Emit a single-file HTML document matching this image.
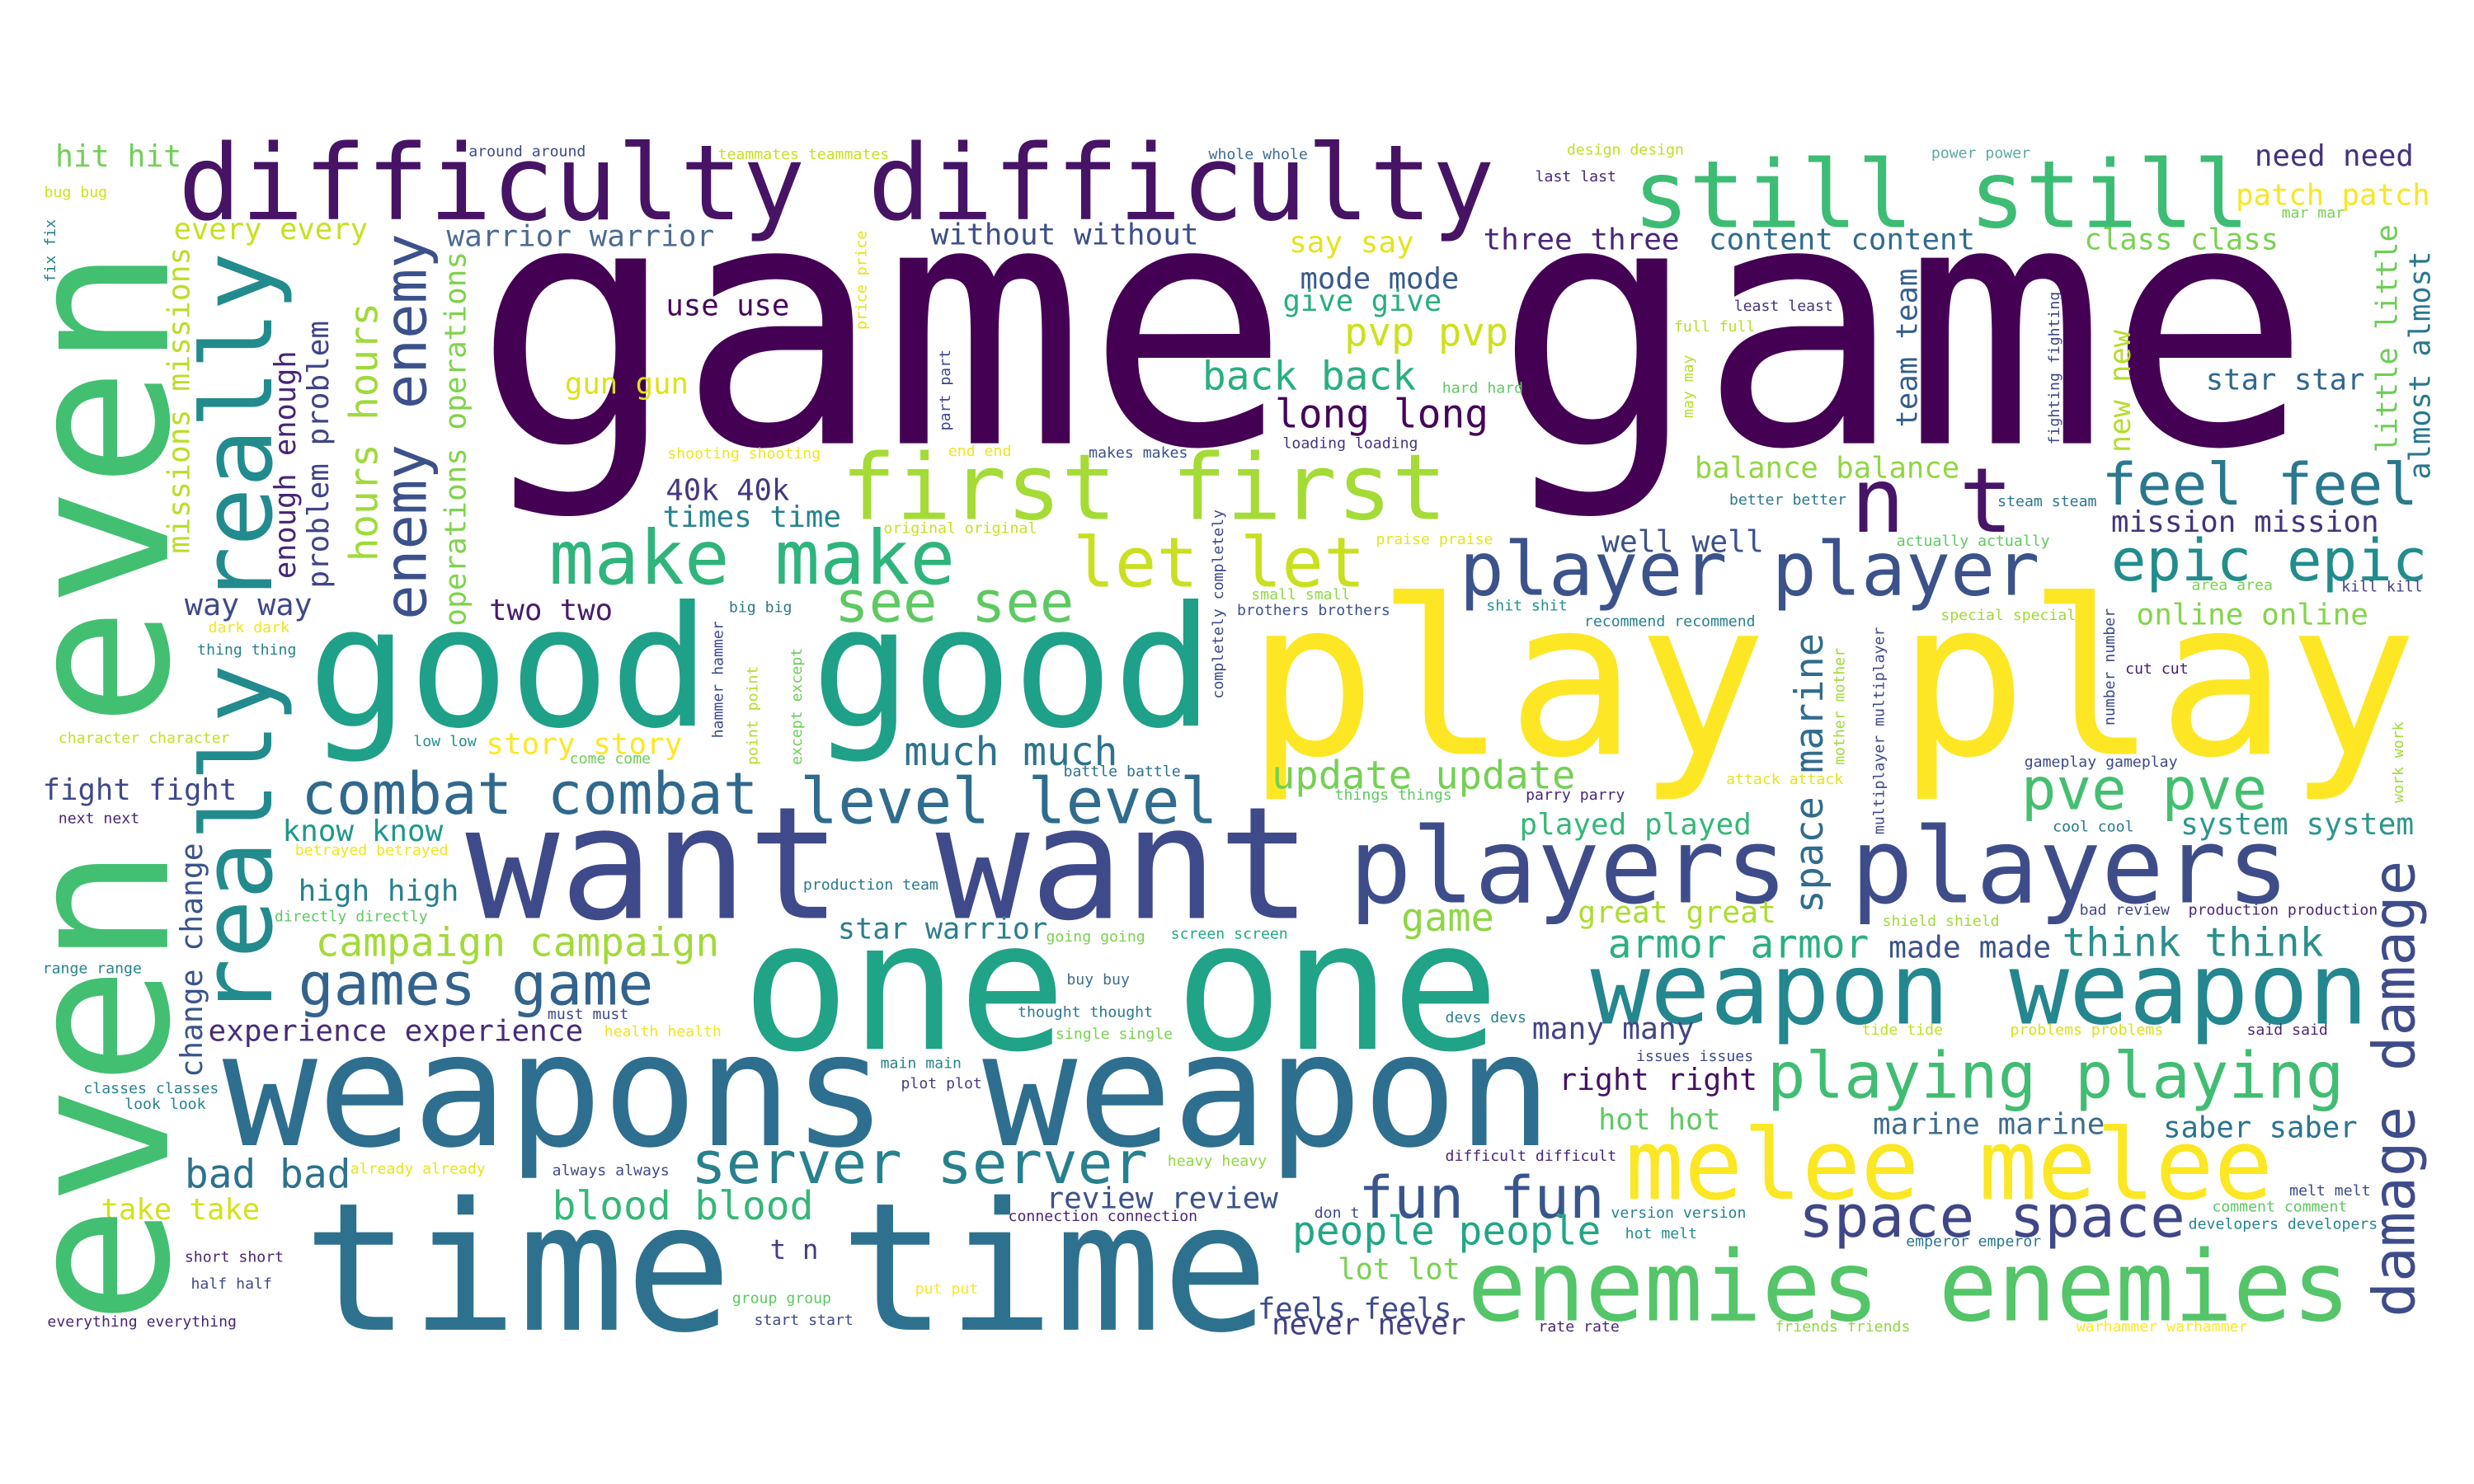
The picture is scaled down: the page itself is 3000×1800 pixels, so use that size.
<!DOCTYPE html>
<html>
<head>
<meta charset="utf-8">
<style>
html,body{margin:0;padding:0;background:#ffffff;}
#wc{display:block;}
#wc text{font-family:"DejaVu Sans Mono","Liberation Mono",monospace;}
</style>
</head>
<body>
<svg id="wc" width="3000" height="1800" viewBox="0 0 1568 940.8" xmlns="http://www.w3.org/2000/svg">
<rect x="0" y="0" width="1568" height="940.8" fill="#ffffff"/>
<g id="words"></g>
</svg>
<script>
// Horizontal words: text, font size (word weight), colour, anchor (left x, baseline y)
const hWords = ["game game","difficulty difficulty","still still","play play","first first","make make","let let","n t","feel feel","player player","epic epic","good good","see see","want want","players players","one one","weapon weapon","weapons weapon","time time","melee melee","enemies enemies","combat combat","level level","pve pve","games game","server server","fun fun","space space","playing playing","much much","update update","campaign campaign","game","great great","armor armor","made made","think think","online online","system system","played played","right right","hot hot","marine marine","saber saber","people people","lot lot","feels feels","never never","review review","blood blood","bad bad","take take","experience experience","high high","know know","fight fight","story story","way way","two two","times time","40k 40k","well well","balance balance","mission mission","star star","long long","back back","pvp pvp","give give","mode mode","say say","three three","content content","class class","patch patch","need need","without without","warrior warrior","use use","gun gun","every every","hit hit","star warrior","many many","t n"];
const hSizes = [215,66,59,137,58,47.5,44,57,37,47,37,106,36,99,66,114,63,100,113,62,62,37,40,37,37.4,37,37,37,40.5,25,24.6,25,24.5,19,25,19,25,18.8,18.9,18.8,19,18.4,18.8,18.6,25,18.4,18.6,18.6,18.8,25,25,18.6,18.8,18.8,18.8,18.6,18.8,19.2,18.6,18.8,18.6,19,18.6,18.8,18.6,25,25,24.7,18.6,18.6,18.8,18.8,18.7,18.6,18.6,18.6,18.8,18.8,18.6,18.6,18.6,19,18.4,19,17];
const hColors = ["#440154","#471365","#3dbc74","#fde725","#a5db36","#2fb47c","#c8e020","#481467","#2a788e","#3b528b","#228c8d","#1fa088","#5ec962","#3e4a89","#3e4d8a","#20a386","#24868e","#2e6e8e","#2d718e","#fbe723","#54c568","#30698e","#2f6c8e","#44bf70","#33638d","#27808e","#39568c","#3f4788","#40bd72","#2c738e","#75d054","#a2da37","#8ed645","#addc30","#2ab07f","#3b528b","#2a8f8c","#84d44b","#2f958c","#35b779","#471063","#5ec962","#3e6d8e","#2b748e","#22a785","#7ad151","#3e4c8a","#433e85","#3b528b","#35b779","#2c728e","#d2e21b","#472c7a","#26818e","#1f988b","#3f4889","#fde725","#3e4989","#481b6d","#25838e","#453781","#3b528b","#90d743","#45337d","#31688e","#45065a","#29af7f","#cde11d","#27ad81","#38598c","#e5e419","#482677","#2f6b8e","#7ad151","#f8e621","#45327d","#3d4e8a","#4c6b91","#46075a","#dde318","#c8e020","#71cf57","#2c7e8e","#414487","#433d84"];
const hX = [300,113,1035,790,533,348,680,1173,1332,925,1338,195,529,295,855,470,1008,141,192,1030,930,191,507,1281,189,438,861,1140,1120,573,806,200,888,1000,1019,1197,1307,1354,1382,963,988,1013,1187,1371,819,848,797,806,663,350,117,64,132,189,179,27,308,117,310,420,422,1015,1074,1338,1398,808,762,852,813,824,817,940,1083,1321,1417,1429,590,283,422,358,110,35,531,971,488];
const hY = [281,139,144,478,329,370,372,337,320,377,368,460,394,582,572,665,649,726,843,760,837,516,522,513,637,750,772,784,696,485,500,606,590,585,607,607,606,396,529,529,691,716,719,721,789,811,836,846,766,773,753,773,660,571,533,507,478,390,393,334,317,350,303,337,247,271,247,219,197,183,160,158,158,158,130,105,155,156,200,249.5,151.5,105.5,595,658.6,798];

// Small horizontal words (all same small weight)
const sWords = ["around around","teammates teammates","whole whole","design design","power power","last last","mar mar","bug bug","least least","full full","hard hard","loading loading","shooting shooting","end end","makes makes","original original","better better","steam steam","actually actually","praise praise","small small","brothers brothers","shit shit","recommend recommend","special special","area area","kill kill","big big","dark dark","thing thing","character character","low low","come come","cut cut","gameplay gameplay","attack attack","parry parry","things things","battle battle","next next","betrayed betrayed","cool cool","production team","directly directly","range range","shield shield","bad review","production production","going going","screen screen","buy buy","must must","health health","thought thought","single single","devs devs","tide tide","problems problems","said said","issues issues","main main","plot plot","classes classes","look look","already already","always always","difficult difficult","heavy heavy","melt melt","comment comment","version version","connection connection","don t","hot melt","developers developers","emperor emperor","short short","half half","put put","group group","start start","everything everything","rate rate","friends friends","warhammer warhammer"];
const sSize = 9.5;
const sColors = ["#3e4989","#c8e020","#3e6d8e","#c2df23","#5ba8a0","#482677","#7ad151","#d2e21b","#45337d","#b5de2b","#5ec962","#45337d","#f1e51d","#f1e51d","#3b528b","#c8e020","#2a788e","#2a788e","#5ec962","#e5e419","#90d743","#3b528b","#21918c","#26828e","#a0da39","#7ad151","#433e85","#2a788e","#f1e51d","#26828e","#c2df23","#21918c","#6ece58","#481b6d","#3e4989","#e5e419","#482677","#5ec962","#2c728e","#482677","#f1e51d","#2a788e","#2a788e","#5ec962","#26828e","#a0da39","#3e4989","#482677","#7ad151","#22a884","#3e6d8e","#3e4989","#f1e51d","#2a788e","#7ad151","#26828e","#c2df23","#d8e219","#482677","#3e4989","#26828e","#4a3a86","#26828e","#26828e","#e5e419","#3e4989","#482677","#90d743","#3e4989","#5ec962","#26828e","#482677","#3e4989","#21918c","#26828e","#2a788e","#482677","#3e4989","#fde725","#5ec962","#3e4989","#482677","#482677","#90d743","#fde725"];
const sX = [297,455,766,993,1224,973,1446,28,1099,1061,914,813,423,601,690,560,1096,1266,1202,872,793,784,942,1004,1230,1389,1484,462,132,125,37,262,361,1347,1283,1094,967,846,674,37,187,1301,509,174,27,1193,1318,1387,663,742,676,347,383,645,669,916,1180,1274,1424,1037,558,571,53,79,222,350,916,740,1451,1402,1021,639,833,1030,1387,1208,117,121,580,464,478,30,975,1125,1316];
const sY = [99,101,101,98,100,115,138,125,197,210,249,284,290.6,289,290,338,320,321,346,345,380,390,387,397,393,374,375,388,401,415,471,473,484,427,486,497,507,507,492,522,542,527,564,584,617,587,580,580,597,595,624,646,657,644.6,658.6,648,656,656,656,672.7,677,690,693,703,744,745,736,739,758,768,772,774,772,785,779,790,800,817,820,826,840,841,844,844,844];

// Vertical words (read bottom to top): text, size, colour, anchor (baseline x, bottom y)
const vWords = ["even even","really really","change change","missions missions","enough enough","problem problem","hours hours","enemy enemy","operations operations","fix fix","hammer hammer","point point","except except","price price","part part","completely completely","may may","fighting fighting","team team","new new","little little","almost almost","space marine","mother mother","multiplayer multiplayer","number number","work work","damage damage"];
const vSizes = [126,62,19,19,18.5,18.8,24.8,37,18.8,9.5,9.5,9.5,9.5,9.5,9.5,9.5,9.5,9.5,18.6,18.5,18.5,18.5,24.6,9.5,9.5,9.5,9.5,37];
const vColors = ["#43bf71","#228b8d","#3a548c","#bade28","#482576","#414487","#9fda3a","#3b518b","#7fd34e","#26828e","#3e4989","#b5de2b","#6ece58","#e5e419","#3e4989","#3e4989","#b5de2b","#3e4989","#355f8d","#b5de2b","#6ece58","#2a788e","#2f6c8e","#a0da39","#3e4989","#3e4989","#a0da39","#3e4c8a"];
const vX = [106,172,128,120,187,208,239,270,295,35,458,480,508,549,602,775,1073,1305,1215,1350,1519,1540,1155,1169,1194,1340,1523,1530];
const vY = [840,645,683,351,367,373,356,393,397,179,468,485,485,209,273,443,265,282,271,287,287,304,579,485,529,460,509,835];

const NS = "http://www.w3.org/2000/svg";
const layer = document.getElementById("words");
function slug(s){return s.toLowerCase().replace(/[^a-z0-9]+/g,"-").replace(/^-|-$/g,"");}

hWords.forEach(function(w,i){
  const t = document.createElementNS(NS,"text");
  t.setAttribute("x", hX[i]);
  t.setAttribute("y", hY[i]);
  t.setAttribute("font-size", hSizes[i]);
  t.setAttribute("fill", hColors[i]);
  
  
  t.textContent = w;
  layer.appendChild(t);
});

sWords.forEach(function(w,i){
  const t = document.createElementNS(NS,"text");
  t.setAttribute("x", sX[i]);
  t.setAttribute("y", sY[i]);
  t.setAttribute("font-size", sSize);
  t.setAttribute("fill", sColors[i]);
  
  
  t.textContent = w;
  layer.appendChild(t);
});

vWords.forEach(function(w,i){
  const t = document.createElementNS(NS,"text");
  t.setAttribute("x", 0);
  t.setAttribute("y", 0);
  t.setAttribute("transform", "translate(" + vX[i] + "," + vY[i] + ") rotate(-90)");
  t.setAttribute("font-size", vSizes[i]);
  t.setAttribute("fill", vColors[i]);
  
  
  t.textContent = w;
  layer.appendChild(t);
});
</script>
</body>
</html>
